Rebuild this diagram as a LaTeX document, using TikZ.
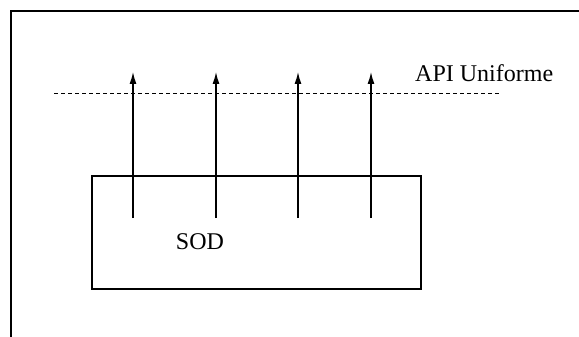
\documentclass[tikz,border=0pt]{standalone}
\usepackage{fontspec}
\setmainfont{Liberation Serif}
\usetikzlibrary{arrows.meta}
\begin{document}
\begin{tikzpicture}[x=1pt,y=-1pt,
  frameline/.style={line width=2pt,black},
  sodbox/.style={draw,line width=1.4pt,minimum width=329pt,minimum height=113pt,inner sep=0pt},
  apiline/.style={line width=0.9pt,dash pattern=on 4pt off 3pt},
  uparrow/.style={line width=1.3pt,-{Latex[length=12pt,width=7pt]}},
  lbl/.style={font=\fontsize{24}{28}\selectfont,inner sep=0pt}]
\useasboundingbox (0,0) rectangle (579,337);
% outer frame (only top and left visible)
\coordinate (fbl) at (11,337);
\coordinate (ftl) at (11,11);
\coordinate (ftr) at (579,11);
\draw[frameline] (fbl) -- (ftl) -- (ftr);
% SOD box
\node[sodbox] (sod) at (256.5,232.5) {};
\node[lbl] (sodlabel) at (200,242) {SOD};
% dashed API line
\coordinate (dl) at (54,93);
\coordinate (dr) at (500,93);
\draw[apiline] (dl) -- (dr);
\node[lbl,anchor=base west] (api) at (415,82) {API Uniforme};
% arrows
\foreach \i/\x in {1/133,2/216,3/298,4/371}{
  \coordinate (b\i) at (\x,218);
  \coordinate (t\i) at (\x,72);
  \draw[uparrow] (b\i) -- (t\i);
}
\end{tikzpicture}
\end{document}
